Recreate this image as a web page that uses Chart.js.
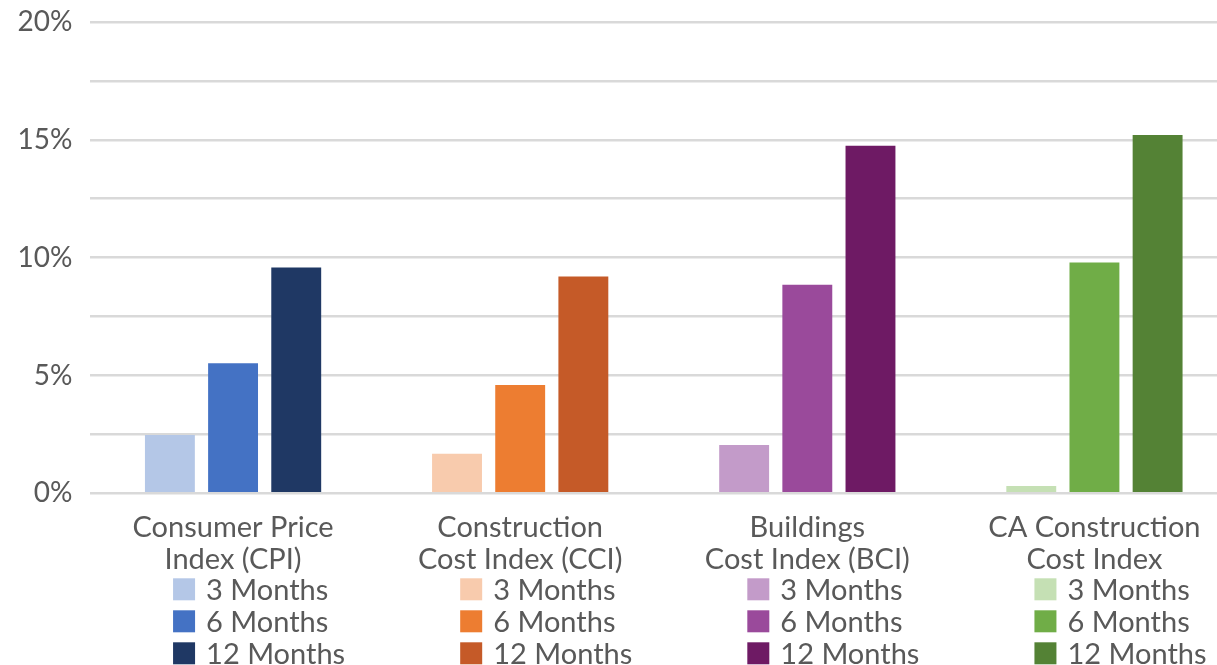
<!DOCTYPE html>
<html>
<head>
<meta charset="utf-8">
<script src="https://cdn.jsdelivr.net/npm/chart.js@4"></script>
<style>
  html, body { margin: 0; padding: 0; background: #ffffff; overflow: hidden; }
  canvas { display: block; }
</style>
</head>
<body>
<canvas id="barChart" width="1240" height="665"></canvas>
<script>
// categories and series
const categories = [
    ['Consumer Price', 'Index (CPI)'],
    ['Construction', 'Cost Index (CCI)'],
    ['Buildings', 'Cost Index (BCI)'],
    ['CA Construction', 'Cost Index']
];
const seriesLabels = ['3 Months', '6 Months', '12 Months'];
const threeMonths = [2.47, 1.68, 2.05, 0.31];
const sixMonths = [5.52, 4.6, 8.85, 9.79];
const twelveMonths = [9.58, 9.2, 14.75, 15.2];

// one colour per bar, grouped by category
const threeColors = ['#B4C7E7', '#F8CBAD', '#C39BC9', '#C5E0B4'];
const sixColors = ['#4472C4', '#ED7D31', '#9A4A9B', '#70AD47'];
const twelveColors = ['#1F3864', '#C55A28', '#6E1A64', '#548235'];

const textColor = '#595959';
const fontFamily = 'Lato, "Open Sans", sans-serif';
const labelSize = 29;

// draws the small legend under each category label
const groupLegend = {
    id: 'groupLegend',
    afterDraw(chart) {
        const ctx = chart.ctx;
        const xScale = chart.scales.x;
        const base = chart.chartArea.bottom;
        ctx.save();
        ctx.font = labelSize + 'px ' + fontFamily;
        ctx.fillStyle = textColor;
        ctx.textBaseline = 'middle';
        ctx.textAlign = 'left';
        for (let i = 0; i < categories.length; i++) {
            const cx = xScale.getPixelForValue(i);
            chart.data.datasets.forEach((ds, j) => {
                const y = base + 96 + j * 32;
                ctx.fillStyle = ds.backgroundColor[i];
                ctx.fillRect(cx - 60, y - 11, 22, 22);
                ctx.fillStyle = textColor;
                ctx.fillText(ds.label, cx - 27, y + 1);
            });
        }
        ctx.restore();
    }
};

const ctx = document.getElementById('barChart').getContext('2d');
const myChart = new Chart(ctx, {
    type: 'bar',
    data: {
        labels: categories,
        datasets: [
            { label: seriesLabels[0], data: threeMonths, backgroundColor: threeColors },
            { label: seriesLabels[1], data: sixMonths, backgroundColor: sixColors },
            { label: seriesLabels[2], data: twelveMonths, backgroundColor: twelveColors }
        ]
    },
    options: {
        responsive: false,
        animation: false,
        layout: { padding: { top: 22, right: 2, left: 0, bottom: 0 } },
        categoryPercentage: 0.66,
        barPercentage: 0.79,
        plugins: {
            legend: { display: false },
            tooltip: { enabled: false }
        },
        scales: {
            x: {
                grid: { display: false },
                border: { display: false },
                ticks: {
                    color: textColor,
                    padding: 10,
                    maxRotation: 0,
                    autoSkip: false,
                    font: { family: fontFamily, size: labelSize, lineHeight: 32 / labelSize }
                },
                afterFit(scale) { scale.height = 171.7; }
            },
            y: {
                min: 0,
                max: 20,
                border: { display: false },
                grid: { color: '#D9D9D9', lineWidth: 2.5, drawTicks: false },
                ticks: {
                    stepSize: 2.5,
                    color: textColor,
                    padding: 17,
                    font: { family: fontFamily, size: 28 },
                    callback: function (value) {
                        return value % 5 === 0 ? value + '%' : '';
                    }
                },
                afterFit(scale) {
                    scale.width = 89.5;
                    // tick padding should not push the plot area down
                    scale.paddingTop = 0;
                    scale.paddingBottom = 0;
                }
            }
        }
    },
    plugins: [groupLegend]
});
</script>
</body>
</html>
